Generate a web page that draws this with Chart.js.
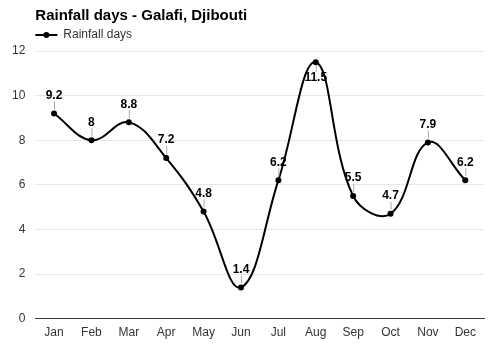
<!DOCTYPE html>
<html><head><meta charset="utf-8">
<script src="https://cdn.jsdelivr.net/npm/chart.js@4/dist/chart.umd.min.js"></script>
<style>html,body{margin:0;padding:0;background:#fff}#wrap{width:500px;height:350px;position:relative}</style>
</head><body><div id="wrap"><canvas id="c" width="500" height="350"></canvas></div>
<script>
const titleText = 'Rainfall days - Galafi, Djibouti';
const seriesName = 'Rainfall days';
const months = ['Jan','Feb','Mar','Apr','May','Jun','Jul','Aug','Sep','Oct','Nov','Dec'];
const rainfallDays = [9.2, 8, 8.8, 7.2, 4.8, 1.4, 6.2, 11.5, 5.5, 4.7, 7.9, 6.2];
const yTicks = [0, 2, 4, 6, 8, 10, 12];

const FONT = '"Liberation Sans", Arial, sans-serif';

const headerPlugin = {
  id: 'header',
  afterDraw(chart) {
    const ctx = chart.ctx;
    const left = chart.chartArea.left;
    ctx.save();
    ctx.fillStyle = '#000';
    ctx.font = 'bold 15px ' + FONT;
    ctx.textBaseline = 'middle';
    ctx.textAlign = 'left';
    ctx.fillText(titleText, left, 16);
    ctx.strokeStyle = '#000';
    ctx.lineWidth = 2;
    ctx.beginPath(); ctx.moveTo(left, 35); ctx.lineTo(left + 22, 35); ctx.stroke();
    ctx.beginPath(); ctx.arc(left + 11, 35, 3, 0, Math.PI * 2); ctx.fillStyle = '#000'; ctx.fill();
    ctx.font = '12px ' + FONT;
    ctx.fillStyle = '#333';
    ctx.fillText(seriesName, left + 28, 35);
    ctx.restore();
  }
};

const labelPlugin = {
  id: 'pointLabels',
  afterDatasetsDraw(chart) {
    const ctx = chart.ctx;
    const meta = chart.getDatasetMeta(0);
    const data = chart.data.datasets[0].data;
    ctx.save();
    ctx.font = 'bold 12px ' + FONT;
    ctx.textAlign = 'center';
    meta.data.forEach((pt, i) => {
      const x = pt.x, y = pt.y;
      const flip = (y - 28) < chart.chartArea.top;
      ctx.strokeStyle = '#aaa';
      ctx.lineWidth = 1;
      ctx.beginPath();
      if (flip) { ctx.moveTo(x + 0.5, y + 3); ctx.lineTo(x + 0.5, y + 10); }
      else { ctx.moveTo(x + 0.5, y - 4); ctx.lineTo(x + 0.5, y - 12); }
      ctx.stroke();
      ctx.fillStyle = '#000';
      if (flip) { ctx.textBaseline = 'top'; ctx.fillText(String(data[i]), x, y + 10); }
      else { ctx.textBaseline = 'bottom'; ctx.fillText(String(data[i]), x, y - 12); }
    });
    ctx.restore();
  }
};

new Chart(document.getElementById('c'), {
  type: 'line',
  data: {
    labels: months,
    datasets: [{
      label: seriesName,
      data: rainfallDays,
      borderColor: '#000',
      backgroundColor: '#000',
      borderWidth: 2,
      pointRadius: 3,
      pointBackgroundColor: '#000',
      pointBorderWidth: 0,
      tension: 0.4,
      cubicInterpolationMode: 'default',
      fill: false
    }]
  },
  options: {
    responsive: false,
    animation: false,
    devicePixelRatio: 1,
    layout: { padding: { top: 51, left: 2, right: 16, bottom: 3 } },
    plugins: { legend: { display: false }, title: { display: false }, tooltip: { enabled: false } },
    scales: {
      x: {
        offset: true,
        grid: { display: false, drawTicks: false },
        border: { display: true, color: '#333', width: 1 },
        ticks: { color: '#333', font: { family: FONT, size: 12 }, padding: 7 }
      },
      y: {
        min: 0, max: 12,
        afterBuildTicks(axis) { axis.ticks = yTicks.map(v => ({ value: v })); },
        grid: { color: '#e6e6e6', drawTicks: false },
        border: { display: false },
        ticks: { color: '#333', font: { family: FONT, size: 12 }, padding: 10 }
      }
    }
  },
  plugins: [headerPlugin, labelPlugin]
});
</script></body></html>
